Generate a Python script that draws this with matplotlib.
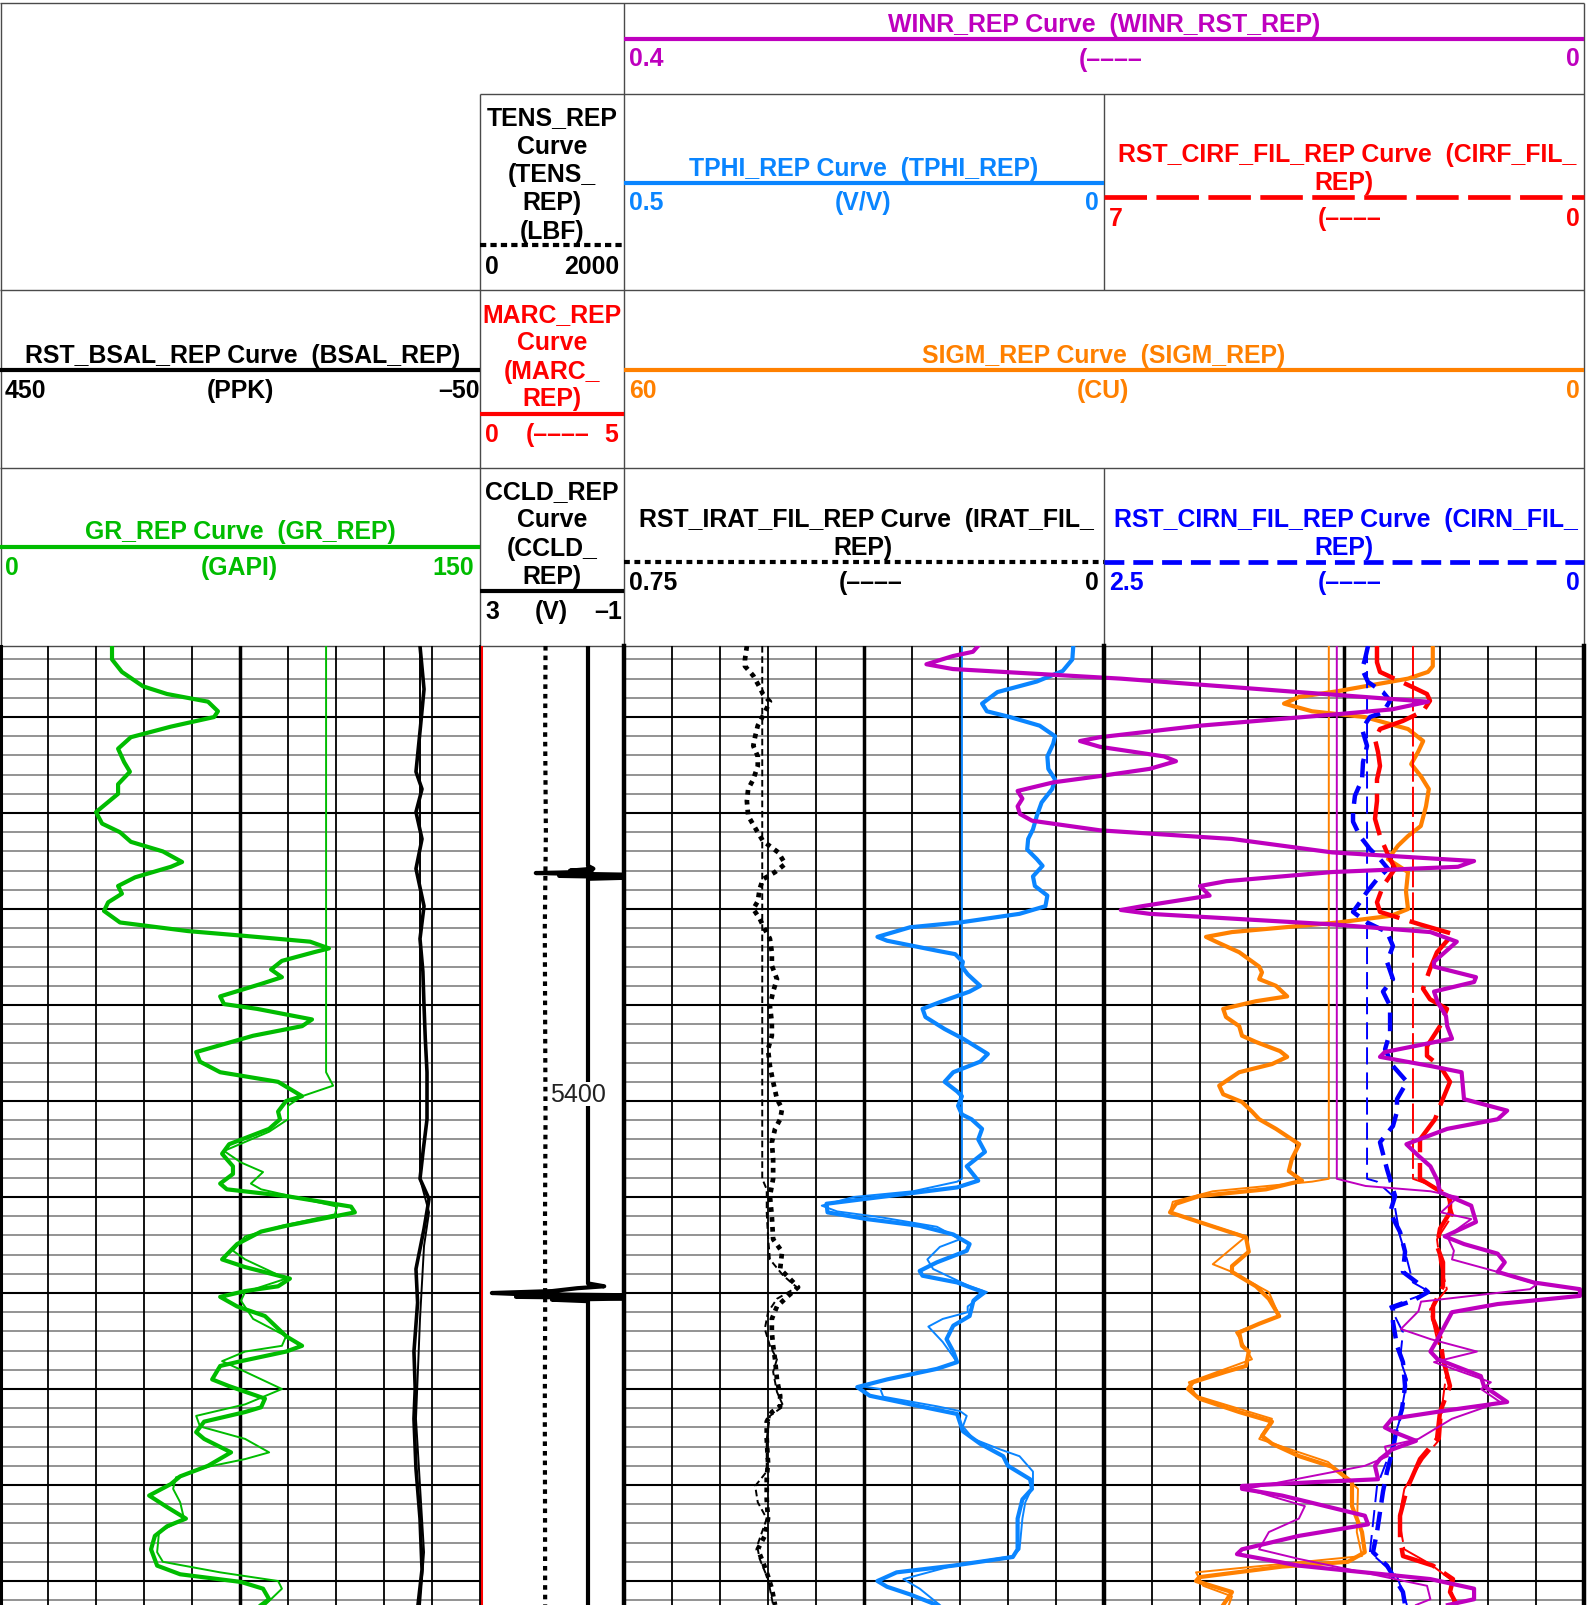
import matplotlib.pyplot as plt
import numpy as np

W, H = 1596, 1606
TOP = 647                      # pixel row where the log tracks begin
D_TOP, D_BOT = 5352.6, 5452.5  # depth range shown (ft)

PURPLE = '#BE00BE'
SKY = '#0A85FF'
RED = '#FF0000'
ORANGE = '#FF8000'
GREEN = '#00BC00'
BLUE = '#0000FF'

# ---------------- track 1 ----------------
gr_dep = [5352.6, 5354.0, 5355.3, 5356.8, 5357.6, 5358.4, 5359.4, 5360.0, 5361.0, 5362.1,
          5363.3, 5364.7, 5365.7, 5367.0, 5368.0, 5369.9, 5371.1, 5372.0, 5373.0, 5374.0,
          5375.1, 5375.6, 5376.7, 5377.6, 5378.4, 5379.3, 5380.2, 5381.4, 5382.3, 5382.8,
          5383.4, 5384.1, 5384.5, 5385.4, 5386.3, 5387.1, 5387.8, 5389.1, 5389.9, 5390.4,
          5391.5, 5392.2, 5393.2, 5394.9, 5395.9, 5397.0, 5398.0, 5399.5, 5400.0, 5401.1,
          5401.9, 5402.9, 5404.5, 5405.5, 5406.8, 5407.6, 5408.6, 5409.2, 5409.9, 5411.0,
          5411.6, 5413.0, 5413.6, 5414.9, 5416.5, 5417.3, 5418.5, 5419.3, 5419.8, 5420.4,
          5421.4, 5422.4, 5424.5, 5425.5, 5426.1, 5427.1, 5427.6, 5429.0, 5429.7, 5431.0,
          5431.9, 5432.4, 5433.4, 5434.5, 5435.2, 5436.6, 5438.0, 5439.1, 5439.9, 5441.1,
          5442.3, 5443.5, 5444.3, 5445.3, 5446.7, 5448.4, 5449.3, 5450.1, 5450.8, 5451.9, 5452.5]
gr_val = [35.0, 35.0, 38.1, 44.7, 52.2, 65.0, 68.1, 66.9, 53.4, 40.9,
          36.9, 38.8, 40.6, 36.9, 36.9, 30.0, 31.9, 37.5, 40.9, 50.9,
          56.9, 53.4, 42.2, 36.9, 38.1, 33.8, 32.5, 37.5, 58.8, 76.6,
          96.9, 102.8, 98.1, 88.1, 84.7, 88.1, 81.6, 68.8, 70.0, 80.3,
          97.5, 94.4, 79.1, 61.3, 62.5, 68.8, 86.9, 94.4, 89.4, 86.9,
          87.5, 84.1, 71.6, 69.4, 72.8, 72.8, 68.8, 70.9, 89.4, 109.7,
          110.9, 89.4, 81.6, 74.1, 69.4, 76.6, 90.6, 86.9, 76.6, 68.8,
          74.1, 82.8, 89.4, 94.4, 89.4, 75.3, 68.8, 66.3, 71.6, 82.8,
          81.6, 76.6, 63.8, 61.3, 63.8, 72.2, 65.0, 56.3, 53.4, 46.6,
          52.2, 58.1, 52.2, 48.4, 47.2, 49.1, 56.3, 75.3, 82.2, 84.1, 81.6]
grr_dep = [5352.6, 5397.0, 5398.4, 5399.5, 5400.5, 5401.9, 5403.2, 5405.2, 5406.4, 5407.4,
           5408.6, 5409.2, 5411.0, 5411.8, 5413.0, 5414.1, 5415.6, 5416.5, 5418.5, 5419.9,
           5420.8, 5422.7, 5424.5, 5425.5, 5426.1, 5427.1, 5428.2, 5430.0, 5431.6, 5432.8,
           5433.9, 5435.2, 5436.6, 5437.3, 5438.1, 5439.2, 5440.4, 5441.8, 5443.5, 5444.9,
           5447.0, 5448.0, 5449.1, 5450.0, 5450.8, 5452.5]
grr_val = [101.9, 101.9, 104.1, 94.4, 90.0, 90.0, 84.1, 70.0, 75.3, 82.2,
           78.4, 81.6, 105.3, 104.7, 88.1, 76.6, 72.8, 76.6, 89.4, 76.6,
           75.3, 79.1, 89.4, 88.1, 76.6, 69.4, 76.6, 88.1, 76.6, 61.3,
           62.5, 76.6, 84.1, 76.6, 65.0, 55.0, 54.1, 56.3, 57.5, 49.7,
           49.1, 50.9, 68.8, 86.9, 88.1, 82.8]

bs_dep = [5352.6, 5357.1, 5361.0, 5365.7, 5367.5, 5369.9, 5372.7, 5375.8, 5379.7, 5383.1,
          5386.5, 5390.1, 5393.5, 5397.0, 5401.9, 5405.0, 5408.1, 5410.2, 5413.3, 5417.5,
          5421.0, 5426.1, 5430.0, 5433.1, 5438.3, 5443.5, 5448.8, 5452.5]
bs_val = [12.5, 8.3, 12.0, 16.7, 10.4, 16.7, 10.4, 16.7, 8.3, 12.5,
          9.5, 8.3, 7.0, 5.2, 5.2, 9.0, 12.5, 3.1, 8.3, 16.7,
          15.0, 18.8, 17.5, 18.8, 16.7, 12.5, 10.4, 14.6]
bsr_dep = [5352.6, 5408.1, 5411.6, 5415.1, 5422.7, 5433.1, 5440.1, 5447.0, 5452.5]
bsr_val = [12.5, 12.5, 3.1, 8.3, 12.5, 16.7, 12.5, 8.3, 12.5]

# ---------------- depth track ----------------
tens_dep = [5352.6, 5362, 5372, 5382, 5392, 5402, 5412, 5422, 5432, 5442, 5452.5]
tens_val = [910, 905, 915, 900, 905, 910, 903, 905, 900, 903, 905]
marc_dep = [5352.6, 5452.5]
marc_val = [0.04, 0.04]
ccl_dep = [5352.6, 5375.5, 5375.8, 5376.0, 5376.1, 5376.2, 5376.25, 5376.3, 5376.45, 5376.55,
           5376.7, 5376.85, 5377.2, 5419.0, 5419.3, 5419.5, 5419.8, 5420.0, 5420.1, 5420.25,
           5420.4, 5420.55, 5420.7, 5420.85, 5421.2, 5452.5]
ccl_val = [0.0, 0.0, -0.15, 0.5, -0.1, 0.8, 1.45, 0.8, -1.5, 0.8,
           -1.5, 0.0, 0.0, 0.0, -0.45, 0.3, 1.0, 2.67, 2.0, -1.5,
           2.0, -1.5, 1.0, 0.0, 0.0, 0.0]

# ---------------- track 2 ----------------
tp_dep = [5352.6, 5354.0, 5355.2, 5356.3, 5357.4, 5358.6, 5359.4, 5360.0, 5360.9, 5362.0,
          5362.8, 5364.1, 5365.4, 5366.5, 5367.5, 5368.9, 5370.3, 5371.7, 5372.7, 5373.8,
          5374.8, 5375.5, 5376.6, 5377.6, 5378.6, 5379.7, 5380.5, 5381.4, 5381.9, 5382.9,
          5383.3, 5384.4, 5384.7, 5385.5, 5386.0, 5386.8, 5388.0, 5388.6, 5389.7, 5390.4,
          5391.25, 5392.5, 5393.5, 5395.1, 5395.9, 5397.0, 5398.0, 5399.0, 5399.5, 5400.5,
          5401.4, 5401.9, 5402.9, 5404.0, 5405.3, 5406.8, 5408.3, 5409.0, 5409.7, 5410.7,
          5411.6, 5412.3, 5413.0, 5413.9, 5414.9, 5415.6, 5416.8, 5417.7, 5418.2, 5418.9,
          5419.9, 5420.8, 5422.4, 5423.4, 5424.8, 5426.1, 5427.2, 5427.9, 5429.0, 5429.8,
          5430.7, 5431.8, 5432.6, 5434.4, 5435.7, 5437.0, 5438.0, 5439.4, 5440.4, 5441.5,
          5443.5, 5446.7, 5447.5, 5448.4, 5449.1, 5450.0, 5450.6, 5451.4, 5452.5]
tp_val = [0.032, 0.033, 0.043, 0.070, 0.111, 0.127, 0.122, 0.098, 0.067, 0.051,
          0.053, 0.059, 0.058, 0.051, 0.054, 0.065, 0.070, 0.074, 0.079, 0.080,
          0.070, 0.064, 0.074, 0.072, 0.059, 0.061, 0.088, 0.150, 0.202, 0.236,
          0.226, 0.171, 0.155, 0.147, 0.148, 0.142, 0.129, 0.140, 0.171, 0.189,
          0.186, 0.166, 0.147, 0.121, 0.129, 0.157, 0.166, 0.153, 0.148, 0.152,
          0.148, 0.138, 0.127, 0.131, 0.124, 0.143, 0.131, 0.153, 0.209, 0.289,
          0.288, 0.247, 0.192, 0.157, 0.140, 0.143, 0.174, 0.192, 0.189, 0.153,
          0.126, 0.136, 0.140, 0.157, 0.164, 0.157, 0.153, 0.174, 0.226, 0.257,
          0.244, 0.192, 0.153, 0.147, 0.129, 0.105, 0.100, 0.077, 0.075, 0.085,
          0.090, 0.090, 0.095, 0.157, 0.216, 0.236, 0.226, 0.202, 0.174]
tpr_dep = [5352.6, 5408.1, 5408.4, 5409.4, 5410.0, 5410.9, 5411.5, 5412.1, 5413.1, 5414.4,
           5415.2, 5416.5, 5417.5, 5419.3, 5419.9, 5421.4, 5422.0, 5422.7, 5423.5, 5425.1,
           5427.2, 5427.9, 5429.0, 5429.7, 5430.0, 5430.8, 5431.8, 5432.3, 5432.8, 5433.9,
           5435.2, 5436.3, 5437.0, 5438.6, 5440.1, 5441.8, 5443.5, 5446.7, 5447.4, 5448.4,
           5449.8, 5450.8, 5452.5]
tpr_val = [0.148, 0.148, 0.153, 0.199, 0.261, 0.294, 0.278, 0.233, 0.174, 0.150,
           0.171, 0.184, 0.178, 0.140, 0.122, 0.142, 0.142, 0.168, 0.183, 0.168,
           0.153, 0.174, 0.226, 0.254, 0.233, 0.230, 0.174, 0.150, 0.143, 0.147,
           0.136, 0.108, 0.088, 0.074, 0.074, 0.082, 0.085, 0.088, 0.095, 0.157,
           0.209, 0.192, 0.171]

ir_dep = [5352.6, 5354.0, 5354.7, 5355.7, 5356.9, 5357.6, 5358.4, 5359.5, 5360.9, 5362.0,
          5363.0, 5364.1, 5365.1, 5366.5, 5367.5, 5368.75, 5370.3, 5371.9, 5372.9, 5374.1,
          5375.3, 5376.15, 5376.9, 5377.9, 5379.2, 5380.0, 5381.0, 5382.1, 5383.1, 5384.5,
          5385.9, 5387.3, 5388.6, 5390.1, 5391.8, 5393.2, 5394.6, 5396.35, 5398.0, 5399.8,
          5400.8, 5401.9, 5402.9, 5404.3, 5406.0, 5408.1, 5409.9, 5412.0, 5414.4, 5415.7,
          5417.5, 5418.5, 5419.4, 5420.4, 5421.4, 5422.7, 5424.1, 5425.5, 5426.9, 5429.0,
          5430.7, 5431.8, 5432.4, 5433.4, 5435.2, 5437.6, 5439.4, 5441.5, 5443.5, 5445.3,
          5446.7, 5448.0, 5449.5, 5450.8, 5452.5]
ir_val = [0.558, 0.561, 0.561, 0.548, 0.538, 0.533, 0.522, 0.530, 0.541, 0.545,
          0.548, 0.541, 0.541, 0.548, 0.556, 0.558, 0.556, 0.542, 0.533, 0.509,
          0.498, 0.514, 0.533, 0.538, 0.541, 0.548, 0.538, 0.530, 0.522, 0.519,
          0.519, 0.511, 0.517, 0.522, 0.519, 0.519, 0.525, 0.522, 0.517, 0.511,
          0.503, 0.506, 0.514, 0.519, 0.517, 0.517, 0.522, 0.519, 0.517, 0.503,
          0.506, 0.491, 0.478, 0.495, 0.511, 0.519, 0.519, 0.517, 0.514, 0.511,
          0.506, 0.506, 0.519, 0.527, 0.527, 0.525, 0.527, 0.527, 0.525, 0.530,
          0.541, 0.533, 0.525, 0.519, 0.514]
irr_dep = [5352.6, 5408.1, 5409.2, 5411.6, 5414.1, 5416.5, 5418.2, 5419.4, 5420.6, 5422.0,
           5423.75, 5425.5, 5426.9, 5428.2, 5430.3, 5431.8, 5432.8, 5435.2, 5438.6, 5440.1,
           5441.8, 5443.5, 5446.35, 5447.7, 5449.8, 5452.5]
irr_val = [0.534, 0.534, 0.527, 0.527, 0.525, 0.522, 0.501, 0.480, 0.511, 0.525,
           0.530, 0.522, 0.511, 0.517, 0.511, 0.501, 0.522, 0.527, 0.527, 0.545,
           0.541, 0.527, 0.542, 0.538, 0.525, 0.517]

# ---------------- WINR (tracks 2 + 3) ----------------
wn_dep = [5352.6, 5353.2, 5353.65, 5354.5, 5355.0, 5355.6, 5356.0, 5357.4, 5358.4, 5359.2,
          5359.7, 5360.9, 5362.1, 5362.5, 5363.1, 5364.1, 5364.6, 5365.4, 5366.15, 5366.8,
          5367.7, 5368.5, 5369.3, 5370.1, 5370.8, 5371.8, 5372.7, 5374.1, 5375.0, 5375.6,
          5376.15, 5377.1, 5377.6, 5378.6, 5379.7, 5380.1, 5380.5, 5381.6, 5382.4, 5383.4,
          5385.5, 5386.0, 5387.1, 5387.6, 5388.6, 5389.7, 5391.15, 5392.2, 5393.5, 5394.9,
          5395.4, 5396.35, 5397.0, 5399.8, 5401.0, 5401.9, 5402.9, 5404.5, 5405.7, 5406.8,
          5408.3, 5409.5, 5410.9, 5412.6, 5413.3, 5414.1, 5414.9, 5415.9, 5416.8, 5417.8,
          5418.9, 5419.6, 5420.3, 5421.15, 5422.0, 5423.4, 5424.8, 5426.1, 5426.9, 5428.65,
          5429.7, 5431.35, 5432.3, 5433.1, 5434.0, 5434.5, 5435.4, 5436.3, 5437.3, 5438.0,
          5439.4, 5439.7, 5440.1, 5440.4, 5441.1, 5443.2, 5444.1, 5445.3, 5446.7, 5447.2,
          5448.4, 5449.8, 5450.8, 5451.9, 5452.5]
wn_val = [0.2525, 0.2546, 0.263, 0.274, 0.263, 0.221, 0.193, 0.119, 0.065, 0.080,
          0.1025, 0.160, 0.2017, 0.21, 0.2017, 0.175, 0.170, 0.181, 0.2017, 0.221,
          0.236, 0.234, 0.236, 0.235, 0.230, 0.2017, 0.1467, 0.105, 0.0458, 0.0525,
          0.105, 0.149, 0.160, 0.156, 0.184, 0.193, 0.181, 0.105, 0.064, 0.053,
          0.0625, 0.0625, 0.045, 0.0458, 0.0625, 0.061, 0.0575, 0.057, 0.055, 0.083,
          0.085, 0.064, 0.051, 0.050, 0.032, 0.036, 0.057, 0.074, 0.069, 0.064,
          0.061, 0.060, 0.047, 0.045, 0.051, 0.058, 0.050, 0.036, 0.033, 0.036,
          0.021, 0.0017, 0.0017, 0.036, 0.055, 0.058, 0.061, 0.064, 0.061, 0.043,
          0.0417, 0.032, 0.059, 0.080, 0.083, 0.079, 0.070, 0.080, 0.085, 0.0871,
          0.0858, 0.1125, 0.1425, 0.1425, 0.1258, 0.0913, 0.09, 0.1188, 0.1425, 0.1446,
          0.1188, 0.064, 0.0458, 0.0458, 0.0567]
wnr_dep = [5352.6, 5408.1, 5408.85, 5409.4, 5410.0, 5411.6, 5412.3, 5414.1, 5415.6, 5416.5,
           5417.8, 5419.1, 5419.6, 5420.9, 5421.9, 5423.75, 5424.8, 5426.1, 5427.2, 5429.3,
           5430.0, 5431.35, 5433.1, 5435.2, 5436.0, 5437.0, 5438.0, 5440.4, 5442.2, 5443.5,
           5444.9, 5446.7, 5447.7, 5450.5, 5451.9, 5452.5]
wnr_val = [0.103, 0.103, 0.091, 0.064, 0.0525, 0.0596, 0.047, 0.057, 0.0542, 0.055,
           0.036, 0.0196, 0.0225, 0.0679, 0.069, 0.0763, 0.064, 0.0446, 0.0625, 0.0388,
           0.0429, 0.035, 0.055, 0.069, 0.083, 0.0817, 0.0913, 0.1408, 0.1163, 0.1188,
           0.1313, 0.1354, 0.1188, 0.0654, 0.064, 0.07]

# ---------------- track 3 ----------------
sg_dep = [5352.6, 5354.7, 5355.3, 5356.0, 5357.3, 5357.9, 5358.6, 5359.4, 5360.0, 5361.25,
          5362.5, 5363.65, 5364.9, 5366.15, 5367.5, 5369.3, 5371.35, 5372.4, 5373.4, 5374.8,
          5376.15, 5378.2, 5380.0, 5380.7, 5381.4, 5382.4, 5382.9, 5383.4, 5384.5, 5386.0,
          5386.6, 5387.3, 5388.0, 5389.1, 5389.6, 5390.4, 5391.25, 5392.2, 5393.2, 5393.85,
          5394.8, 5395.4, 5396.15, 5397.0, 5398.4, 5399.3, 5400.1, 5401.1, 5401.9, 5402.9,
          5404.5, 5406.0, 5407.3, 5408.3, 5409.2, 5409.9, 5410.7, 5411.6, 5412.6, 5414.2,
          5415.7, 5417.2, 5417.8, 5419.3, 5420.6, 5422.4, 5423.2, 5424.1, 5425.5, 5426.1,
          5427.6, 5428.2, 5429.3, 5430.0, 5431.0, 5432.4, 5433.4, 5434.9, 5435.7, 5437.0,
          5438.1, 5439.7, 5442.2, 5444.9, 5447.0, 5448.0, 5448.5, 5449.6, 5450.0, 5451.15, 5452.5]
sg_val = [18.9, 18.9, 19.5, 22.0, 30.75, 35.6, 37.5, 34.0, 27.4, 22.0,
          20.1, 20.75, 21.6, 20.4, 19.4, 19.75, 20.4, 22.0, 23.25, 24.5,
          22.0, 22.25, 22.0, 24.1, 30.75, 44.0, 47.25, 46.0, 43.1, 40.6,
          40.25, 40.6, 38.5, 37.1, 41.0, 45.1, 44.75, 43.1, 42.75, 41.0,
          38.0, 37.1, 39.0, 43.1, 45.6, 45.1, 42.75, 41.5, 40.6, 38.5,
          35.6, 36.5, 36.9, 35.25, 39.75, 48.1, 51.0, 51.75, 48.1, 42.25,
          41.9, 44.0, 44.0, 41.0, 39.4, 38.1, 40.6, 43.1, 42.75, 41.9,
          42.25, 44.75, 48.9, 49.5, 48.1, 43.1, 39.0, 40.25, 39.0, 35.6,
          31.5, 29.0, 29.0, 27.75, 27.4, 29.5, 37.75, 48.1, 48.5, 44.0, 45.1]
sgr_dep = [5352.6, 5408.1, 5408.4, 5409.4, 5410.5, 5411.6, 5414.1, 5417.0, 5417.8, 5419.9,
           5422.4, 5424.1, 5426.9, 5429.3, 5430.7, 5433.1, 5435.2, 5437.6, 5440.4, 5444.9,
           5447.4, 5449.1, 5450.5, 5451.6, 5452.5]
sgr_val = [31.9, 31.9, 34.0, 46.4, 51.4, 51.75, 42.25, 46.4, 44.0, 39.4,
           38.1, 43.5, 41.5, 49.4, 48.5, 39.0, 40.6, 32.0, 28.25, 28.4,
           27.75, 48.5, 47.6, 44.0, 44.4]

cn_dep = [5352.6, 5354.0, 5355.0, 5356.35, 5357.4, 5358.3, 5359.5, 5360.0, 5361.25, 5363.0,
          5364.7, 5366.5, 5368.2, 5369.9, 5370.9, 5372.4, 5373.75, 5374.8, 5375.8, 5376.9,
          5378.2, 5379.3, 5380.3, 5381.4, 5382.4, 5383.85, 5385.5, 5387.3, 5388.6, 5390.1,
          5392.8, 5394.6, 5396.35, 5398.0, 5399.8, 5401.1, 5402.6, 5404.3, 5407.1, 5409.9,
          5411.6, 5413.65, 5415.7, 5417.8, 5418.9, 5419.9, 5420.8, 5421.5, 5423.0, 5425.5,
          5427.2, 5429.7, 5432.1, 5433.9, 5436.3, 5438.6, 5440.7, 5442.8, 5444.9, 5447.0,
          5448.4, 5449.8, 5451.15, 5452.5]
cn_val = [1.125, 1.141, 1.156, 1.125, 1.047, 1.010, 1.047, 1.115, 1.156, 1.130,
          1.151, 1.156, 1.193, 1.203, 1.203, 1.167, 1.115, 1.0625, 1.021, 1.078,
          1.130, 1.167, 1.203, 1.130, 1.026, 0.995, 1.026, 0.995, 1.047, 1.010,
          1.010, 1.036, 0.995, 0.922, 0.974, 0.974, 0.995, 1.0625, 1.026, 0.984,
          1.010, 0.958, 0.932, 0.943, 0.870, 0.8125, 0.891, 0.995, 0.995, 0.974,
          0.943, 0.932, 0.948, 0.974, 0.995, 1.026, 1.047, 1.0625, 1.078, 1.099,
          1.026, 0.984, 0.943, 0.932]
cnr_dep = [5352.6, 5408.1, 5408.4, 5409.9, 5414.1, 5416.5, 5418.9, 5419.9, 5421.4, 5424.1,
           5426.9, 5429.0, 5433.1, 5436.6, 5440.1, 5447.0, 5449.5, 5452.5]
cnr_val = [1.130, 1.130, 1.078, 0.995, 0.958, 0.922, 0.891, 0.802, 1.010, 0.943,
           0.958, 0.922, 0.958, 1.010, 1.078, 1.115, 0.974, 0.922]

cf_dep = [5352.6, 5354.3, 5355.3, 5356.9, 5357.6, 5358.3, 5359.4, 5360.4, 5361.25, 5362.3,
          5363.65, 5365.1, 5366.5, 5368.75, 5370.6, 5372.4, 5374.1, 5375.8, 5377.6, 5379.3,
          5380.3, 5381.6, 5382.6, 5384.5, 5386.25, 5388.3, 5389.4, 5390.4, 5392.2, 5394.3,
          5395.3, 5396.35, 5398.0, 5400.5, 5401.9, 5402.6, 5404.0, 5406.0, 5408.1, 5409.2,
          5409.9, 5411.6, 5413.3, 5415.1, 5416.8, 5419.3, 5421.4, 5422.7, 5424.5, 5426.9,
          5429.7, 5432.4, 5435.2, 5437.3, 5440.4, 5443.2, 5445.6, 5447.4, 5448.4, 5449.8,
          5451.15, 5452.5]
cf_val = [3.019, 3.019, 2.975, 2.494, 2.290, 2.246, 2.348, 2.640, 2.975, 3.048,
          3.004, 2.975, 3.019, 3.019, 3.048, 2.975, 2.873, 2.756, 2.931, 3.019,
          2.975, 2.392, 1.910, 2.144, 2.246, 2.348, 2.246, 1.998, 2.1, 2.290,
          2.290, 2.1, 1.954, 2.1, 2.173, 2.246, 2.392, 2.392, 2.392, 2.144,
          1.954, 1.954, 2.1, 2.144, 2.056, 2.056, 2.202, 2.202, 2.1, 2.056,
          1.954, 2.1, 2.144, 2.392, 2.581, 2.683, 2.683, 2.640, 2.202, 1.910,
          1.954, 1.852]
cfr_dep = [5352.6, 5408.1, 5408.85, 5409.9, 5411.8, 5414.4, 5416.8, 5419.6, 5421.7, 5424.8,
           5428.0, 5431.0, 5435.2, 5437.3, 5440.4, 5443.5, 5446.7, 5448.2, 5449.8, 5452.5]
cfr_val = [2.494, 2.494, 2.202, 1.998, 1.910, 2.144, 2.1, 2.0, 2.246, 2.144,
           2.0, 2.056, 2.1, 2.35, 2.62, 2.70, 2.62, 2.25, 1.95, 1.9]

plt.rcParams['font.family'] = ['Liberation Sans', 'DejaVu Sans']
FS = 17.9
LW_M = 3.0   # main pass
LW_R = 1.4   # repeat pass

fig = plt.figure(figsize=(W / 100, H / 100), dpi=100)

# header drawn in pixel coordinates
hd = fig.add_axes([0, 0, 1, 1])
hd.set_xlim(0, W)
hd.set_ylim(H, 0)
hd.axis('off')


def box_line(x0, x1, y0, y1):
    hd.plot([x0, x1], [y0, y1], color='#4a4a4a', lw=1.0, solid_capstyle='butt')


def hline(x0, x1, y, color, ls='-', lw=3.0):
    hd.plot([x0, x1], [y, y], color=color, lw=lw, ls=ls,
            solid_capstyle='butt', dash_capstyle='butt')


def txt(x, y, s, color, ha='center'):
    hd.text(x, y, s, color=color, ha=ha, va='baseline', fontsize=FS, fontweight='bold')


box_line(0, 1584, 3.5, 3.5)
box_line(0.5, 0.5, 3.5, TOP)
box_line(1584, 1584, 3.5, TOP)
box_line(624, 624, 3.5, TOP)
box_line(480, 480, 95, TOP)
box_line(480, 1584, 95, 95)
box_line(0, 1584, 291, 291)
box_line(0, 1584, 469, 469)
box_line(0, 1584, TOP, TOP)
box_line(1104, 1104, 95, 291)
box_line(1104, 1104, 469, TOP)

# WINR
txt(1104, 32, 'WINR_REP Curve  (WINR_RST_REP)', PURPLE)
hline(624, 1584, 40, PURPLE)
txt(629, 66.5, '0.4', PURPLE, 'left')
txt(1111, 66.5, '(––––', PURPLE)
txt(1580, 66.5, '0', PURPLE, 'right')

# TENS
for s, y in zip(['TENS_REP', 'Curve', '(TENS_', 'REP)', '(LBF)'], [125.4, 153.6, 182, 210.4, 239]):
    txt(552, y, s, 'black')
hline(480, 624, 246, 'black', ls=(0, (1.5, 1.0)))
txt(485, 273.6, '0', 'black', 'left')
txt(619, 273.6, '2000', 'black', 'right')

# TPHI
txt(864, 176, 'TPHI_REP Curve  (TPHI_REP)', SKY)
hline(624, 1104, 184, SKY)
txt(629, 210.4, '0.5', SKY, 'left')
txt(863, 210.4, '(V/V)', SKY)
txt(1099, 210.4, '0', SKY, 'right')

# CIRF
txt(1347, 162, 'RST_CIRF_FIL_REP Curve  (CIRF_FIL_', RED)
txt(1344, 190, 'REP)', RED)
hline(1104, 1584, 198, RED, ls=(0, (9, 2)), lw=3.4)
txt(1109, 226.4, '7', RED, 'left')
txt(1350, 226.4, '(––––', RED)
txt(1580, 226.4, '0', RED, 'right')

# BSAL
txt(243, 363.5, 'RST_BSAL_REP Curve  (BSAL_REP)', 'black')
hline(0, 480, 371, 'black')
txt(5, 397.7, '450', 'black', 'left')
txt(240, 397.7, '(PPK)', 'black')
txt(480, 397.7, '–50', 'black', 'right')

# MARC
for s, y in zip(['MARC_REP', 'Curve', '(MARC_', 'REP)'], [322, 350, 379, 406]):
    txt(552, y, s, RED)
hline(480, 624, 415, RED)
txt(485, 442, '0', RED, 'left')
txt(558, 442, '(––––', RED)
txt(618, 442, '5', RED, 'right')

# SIGM
txt(1104, 363.5, 'SIGM_REP Curve  (SIGM_REP)', ORANGE)
hline(624, 1584, 371, ORANGE)
txt(629, 397.7, '60', ORANGE, 'left')
txt(1103, 397.7, '(CU)', ORANGE)
txt(1580, 397.7, '0', ORANGE, 'right')

# GR
txt(240, 539.5, 'GR_REP Curve  (GR_REP)', GREEN)
hline(0, 480, 548.4, GREEN)
txt(5, 575, '0', GREEN, 'left')
txt(239, 575, '(GAPI)', GREEN)
txt(474, 575, '150', GREEN, 'right')

# CCLD
for s, y in zip(['CCLD_REP', 'Curve', '(CCLD_', 'REP)'], [498.7, 527, 556, 584]):
    txt(552, y, s, 'black')
hline(480, 624, 592, 'black')
txt(485, 618.7, '3', 'black', 'left')
txt(551, 618.7, '(V)', 'black')
txt(622, 618.7, '–1', 'black', 'right')

# IRAT
txt(866, 527, 'RST_IRAT_FIL_REP Curve  (IRAT_FIL_', 'black')
txt(863, 555, 'REP)', 'black')
hline(624, 1104, 563, 'black', ls=(0, (1.4, 1.1)))
txt(629, 590, '0.75', 'black', 'left')
txt(871, 590, '(––––', 'black')
txt(1099, 590, '0', 'black', 'right')

# CIRN
txt(1346, 527, 'RST_CIRN_FIL_REP Curve  (CIRN_FIL_', BLUE)
txt(1344, 555, 'REP)', BLUE)
hline(1104, 1584, 563, BLUE, ls=(0, (4.2, 1.9)), lw=3.4)
txt(1109, 590, '2.5', BLUE, 'left')
txt(1350, 590, '(––––', BLUE)
txt(1580, 590, '0', BLUE, 'right')


def track(x0, x1, lim):
    ax = fig.add_axes([x0 / W, 0, (x1 - x0) / W, (H - TOP) / H])
    ax.set_xlim(*lim)
    ax.set_ylim(D_BOT, D_TOP)
    ax.axis('off')
    return ax


# grids
for x0, x1 in [(0, 480), (624, 1104), (1104, 1584)]:
    g = track(x0, x1, (0, 10))
    for d in np.arange(5354, D_BOT, 2):
        if d % 10 == 0:
            g.axhline(d, color='black', lw=1.5)
        else:
            g.axhline(d, color='#8a8a8a', lw=1.3)
    for i in range(1, 10):
        g.axvline(i, color='black', lw=2.5 if i == 5 else 1.3)

# track 1
a = track(0, 480, (0, 150))
a.plot(grr_val, grr_dep, color=GREEN, lw=LW_R)
a.plot(gr_val, gr_dep, color=GREEN, lw=LW_M)
a = track(0, 480, (450, -50))
a.plot(bsr_val, bsr_dep, color='black', lw=LW_R)
a.plot(bs_val, bs_dep, color='black', lw=2.6)

# depth track
a = track(480, 624, (0, 2000))
a.plot(tens_val, tens_dep, color='black', lw=3.0, ls=(0, (1.1, 1.2)))
a = track(480, 624, (0, 5))
a.plot(marc_val, marc_dep, color=RED, lw=2.2)
a = track(480, 624, (3, -1))
a.plot(ccl_val, ccl_dep, color='black', lw=3.0)

# track 2
a = track(624, 1104, (0.75, 0))
a.plot(irr_val, irr_dep, color='black', lw=LW_R, ls=(0, (3.4, 1.9)))
a.plot(ir_val, ir_dep, color='black', lw=3.4, ls=(0, (1.0, 1.1)))
a = track(624, 1104, (0.5, 0))
a.plot(tpr_val, tpr_dep, color=SKY, lw=LW_R)
a.plot(tp_val, tp_dep, color=SKY, lw=LW_M)

# track 3
a = track(1104, 1584, (60, 0))
a.plot(sgr_val, sgr_dep, color=ORANGE, lw=LW_R)
a.plot(sg_val, sg_dep, color=ORANGE, lw=LW_M)
a = track(1104, 1584, (2.5, 0))
a.plot(cnr_val, cnr_dep, color=BLUE, lw=LW_R, ls=(0, (8.8, 4.1)))
a.plot(cn_val, cn_dep, color=BLUE, lw=3.2, ls=(0, (4.2, 2.1)))
a = track(1104, 1584, (7, 0))
a.plot(cfr_val, cfr_dep, color=RED, lw=LW_R, ls=(0, (15.5, 2.6)))
a.plot(cf_val, cf_dep, color=RED, lw=3.2, ls=(0, (9.5, 2.4)))

# WINR spans tracks 2 and 3
a = track(624, 1584, (0.4, 0))
a.plot(wnr_val, wnr_dep, color=PURPLE, lw=LW_R)
a.plot(wn_val, wn_dep, color=PURPLE, lw=LW_M)

# track borders and depth label on top
ov = fig.add_axes([0, 0, 1, 1], label='overlay')
ov.set_xlim(0, W)
ov.set_ylim(H, 0)
ov.axis('off')
ov.plot([1.2, 1.2], [TOP, H], color='black', lw=2.2)
ov.plot([480, 480], [TOP, H], color='black', lw=1.3)
for x in [624, 1104, 1584]:
    ov.plot([x, x], [TOP, H], color='black', lw=3.2)
ov.text(578, 1102, '5400', ha='center', va='baseline', fontsize=18, color='#222222',
        bbox=dict(fc='white', ec='none', pad=0))

fig.savefig('out.png', dpi=100)
